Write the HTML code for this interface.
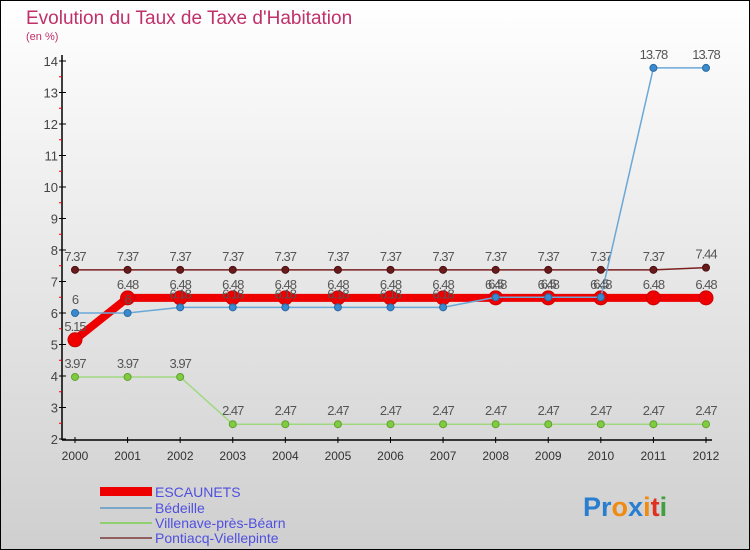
<!DOCTYPE html>
<html><head><meta charset="utf-8"><style>
body{margin:0}
svg{display:block;font-family:"Liberation Sans",sans-serif}
</style></head><body>
<svg id="c" width="750" height="550" viewBox="0 0 750 550">
<defs><linearGradient id="bg" x1="0" y1="0" x2="0" y2="1"><stop offset="0" stop-color="#ffffff"/><stop offset="1" stop-color="#cfcfcf"/></linearGradient></defs>
<rect x="0.5" y="0.5" width="749" height="549" fill="url(#bg)" stroke="#000"/>
<text x="26" y="24" font-size="19" fill="#c0306a">Evolution du Taux de Taxe d'Habitation</text>
<text x="26" y="40" font-size="11" fill="#c0306a">(en %)</text>
<g id="axes"></g>
<g id="series"></g>
<g id="legend">
<rect x="100" y="487" width="52" height="9" fill="#e00"/>
<text x="155" y="497" font-size="14" fill="#5050e0">ESCAUNETS</text>
<rect x="100" y="507" width="52" height="2" fill="#7aa6c8"/>
<text x="155" y="513" font-size="14" fill="#5050e0">Bédeille</text>
<rect x="100" y="522" width="52" height="2" fill="#90d070"/>
<text x="155" y="528" font-size="14" fill="#5050e0">Villenave-près-Béarn</text>
<rect x="100" y="537" width="52" height="2" fill="#906060"/>
<text x="155" y="543" font-size="14" fill="#5050e0">Pontiacq-Viellepinte</text>
</g>
<text x="583" y="516" font-size="27" font-weight="bold"><tspan fill="#2a7ed0">Pr</tspan><tspan fill="#f08a10">o</tspan><tspan fill="#2a7ed0">x</tspan><tspan fill="#f08a10">i</tspan><tspan fill="#e03020">t</tspan><tspan fill="#40a040">i</tspan></text>
</svg>
<script>
const years=[2000,2001,2002,2003,2004,2005,2006,2007,2008,2009,2010,2011,2012];
const yTicks=[2,3,4,5,6,7,8,9,10,11,12,13,14];
const escaunets=[5.15,6.48,6.48,6.48,6.48,6.48,6.48,6.48,6.48,6.48,6.48,6.48,6.48];
const bedeille=[6,6,6.18,6.18,6.18,6.18,6.18,6.18,6.5,6.5,6.5,13.78,13.78];
const villenave=[3.97,3.97,3.97,2.47,2.47,2.47,2.47,2.47,2.47,2.47,2.47,2.47,2.47];
const pontiacq=[7.37,7.37,7.37,7.37,7.37,7.37,7.37,7.37,7.37,7.37,7.37,7.37,7.44];
const NS='http://www.w3.org/2000/svg';
const X=i=>75+i*(706-75)/(years.length-1);
const Y=v=>439-(v-2)*(439-61)/12;
function mk(tag,attrs,parent,txt){const e=document.createElementNS(NS,tag);for(const k in attrs)e.setAttribute(k,attrs[k]);if(txt!=null)e.textContent=txt;parent.appendChild(e);return e;}
const ax=document.getElementById('axes');
let e=mk('line',{x1:62,y1:55,x2:62,y2:440,stroke:'#000','stroke-width':1.5},ax);


e=mk('line',{x1:62,y1:440,x2:712,y2:440,stroke:'#000','stroke-width':1.5},ax);


yTicks.forEach(t=>{
  mk('line',{x1:59,y1:Y(t),x2:66,y2:Y(t),stroke:'#000'},ax);
  if(t<14)mk('line',{x1:59,y1:Y(t+0.5),x2:62,y2:Y(t+0.5),stroke:'#e00'},ax);
  e=mk('text',{x:58,y:Y(t)+5,'font-size':13,fill:'#444','text-anchor':'end'},ax,t);
  
  
});
years.forEach((y,i)=>{
  mk('line',{x1:X(i),y1:437,x2:X(i),y2:443,stroke:'#000'},ax);
  e=mk('text',{x:X(i),y:460,'font-size':12,fill:'#333','text-anchor':'middle'},ax,y);
  
  
});
const sg=document.getElementById('series');
function series(name,data,color,w,r,fill,stroke){
  const g=mk('g',{},sg);
  
  
  const pl=mk('polyline',{points:data.map((v,i)=>X(i)+','+Y(v)).join(' '),fill:'none',stroke:color,'stroke-width':w,'stroke-linejoin':'round'},g);
  
  
  data.forEach((v,i)=>{
    const c=mk('circle',{cx:X(i),cy:Y(v),r:r,fill:fill,stroke:stroke,'stroke-width':1},g);
    
    
    const t=mk('text',{x:X(i),y:Y(v)-9,'font-size':13,fill:'#555','text-anchor':'middle','letter-spacing':'-1'},g,String(v));
    
    
  });
}
series('pontiacq',pontiacq,'#7a2020',1.5,3.5,'#6a1a1a','#4a1010');
series('villenave',villenave,'#a0d880',1.5,3.5,'#80cc40','#60a030');
series('escaunets',escaunets,'#ee0000',8,7,'#ee0000','#cc0000');
series('bedeille',bedeille,'#6aa8d8',1.5,3.5,'#3a8ad0','#2a6aa0');
</script>
</body></html>
